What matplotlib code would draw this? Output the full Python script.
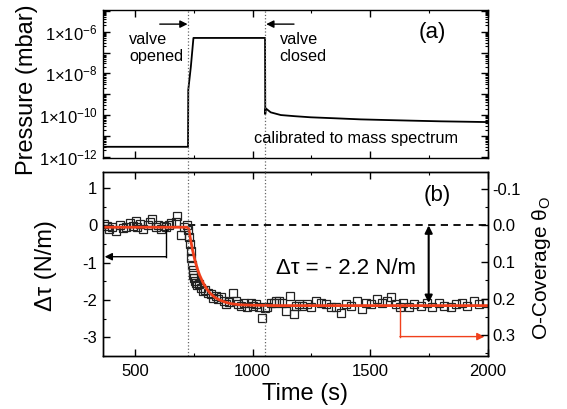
import numpy as np
import matplotlib
matplotlib.use("Agg")
import matplotlib.pyplot as plt
from matplotlib.ticker import LogLocator, FuncFormatter, MultipleLocator, NullFormatter
from matplotlib.lines import Line2D
from matplotlib.transforms import blended_transform_factory

plt.rcParams['font.family'] = ['Liberation Sans', 'DejaVu Sans']
plt.rcParams['mathtext.fontset'] = 'custom'
plt.rcParams['mathtext.rm'] = 'Liberation Sans'
plt.rcParams['mathtext.it'] = 'Liberation Sans:italic'
plt.rcParams['mathtext.default'] = 'regular'
plt.rcParams['axes.unicode_minus'] = False

# pressure trace (panel a)
t_press = [365, 726, 727, 738, 749, 1053, 1054, 1056, 1077, 1120, 1180, 1247,
           1350, 1459, 1560, 1671, 1800, 1900, 2000]
pressure = [3.0e-12, 3.0e-12, 1.6e-9, 2.1e-8, 5.0e-7, 5.0e-7, 1.1e-10, 2.1e-10,
            1.35e-10, 1.0e-10, 8.8e-11, 7.8e-11, 7.0e-11, 6.2e-11, 5.8e-11,
            5.4e-11, 5.0e-11, 4.8e-11, 4.6e-11]

# stress data (panel b)
t_stress = [370, 380, 391, 405, 420, 438, 450, 462, 480, 492, 504, 511, 522, 533,
            554, 565, 575, 589, 600, 611, 622, 632, 645, 653, 674, 681, 695, 710,
            720,
            728, 731, 734, 737, 740, 743, 746, 749, 752, 756, 760, 765, 772, 780,
            790, 800, 812, 823, 834, 844, 855, 866, 879, 886, 900, 915, 929, 940,
            950, 965, 978, 992, 1003, 1014, 1027, 1041, 1052, 1063, 1077, 1091,
            1098, 1112,
            1127, 1141, 1159, 1176, 1183, 1198, 1212, 1230, 1247, 1268, 1289, 1311,
            1332, 1353, 1374, 1396, 1417, 1445, 1466, 1480, 1505, 1530, 1551, 1570,
            1587, 1608, 1625, 1640, 1664, 1686, 1714, 1742, 1763, 1792, 1813, 1841,
            1862, 1891, 1912, 1940, 1961, 1990]
d_tau = [0.04, -0.02, -0.09, -0.05, -0.15, 0.00, -0.08, -0.05, 0.07, -0.02, 0.13,
         -0.05, 0.03, -0.09, 0.00, 0.08, 0.16, -0.05, 0.02, -0.09, -0.03, -0.05,
         0.02, 0.05, 0.09, 0.25, -0.25, -0.05, 0.02,
         -0.12, -0.30, -0.50, -0.70, -0.88, -1.05, -1.20, -1.32, -1.42, -1.50,
         -1.55, -1.60, -1.58, -1.68, -1.75, -1.72, -1.80, -1.84, -1.95, -1.89,
         -1.98, -1.93, -2.02, -2.11, -2.05, -1.80, -2.02, -2.12, -2.16, -2.08,
         -2.20, -2.07, -2.15, -2.11, -2.18, -2.47, -2.22, -2.20, -2.07, -2.07,
         -2.02, -2.02,
         -2.07, -2.29, -1.89, -2.38, -2.16, -2.10, -2.16, -2.12, -2.20, -2.02,
         -2.07, -2.11, -2.20, -2.20, -2.34, -2.11, -2.16, -2.02, -2.25, -2.07,
         -2.12, -1.98, -2.07, -2.02, -1.93, -2.11, -2.18, -2.07, -2.20, -2.11,
         -2.16, -2.07, -2.20, -2.07, -2.16, -2.20, -2.11, -2.07, -2.16, -2.02,
         -2.11, -2.07]

# fit curve
t_fit = [365, 720, 726, 730, 735, 745, 755, 765, 775, 790, 805, 820, 840, 860,
         885, 910, 950, 1000, 1100, 2000]
tau_fit = [-0.05, -0.05, -0.06, -0.12, -0.32, -0.655, -0.93, -1.15, -1.33, -1.54,
           -1.70, -1.82, -1.93, -2.00, -2.06, -2.10, -2.13, -2.14, -2.15, -2.15]

t_open, t_close = 727, 1055
red = '#f0401c'

fig = plt.figure(figsize=(5.67, 4.09), dpi=100)
ax1 = fig.add_axes([0.1817, 0.6137, 0.679, 0.3619])
ax2 = fig.add_axes([0.1817, 0.1296, 0.679, 0.4499])
ax2r = ax2.twinx()

for ax in (ax1, ax2, ax2r):
    for s in ax.spines.values():
        s.set_linewidth(1.0)

# ---- panel (a)
ax1.plot(t_press, pressure, color='k', lw=1.3)
ax1.set_yscale('log')
ax1.set_xlim(365, 2000)
ax1.set_ylim(10 ** -12.06, 10 ** -4.96)
ax1.yaxis.set_major_locator(LogLocator(base=10, numticks=30))
ax1.yaxis.set_minor_locator(LogLocator(base=10, subs=np.arange(2, 10), numticks=30))
ax1.yaxis.set_minor_formatter(NullFormatter())


def sci(v, pos):
    e = int(round(np.log10(v)))
    if e % 2:
        return ''
    return r'1$\times$10$^{%d}$' % e


ax1.yaxis.set_major_formatter(FuncFormatter(sci))
ax1.xaxis.set_major_locator(MultipleLocator(500))
ax1.xaxis.set_minor_locator(MultipleLocator(250))
ax1.tick_params(axis='x', labelbottom=False)
ax1.tick_params(which='both', direction='in', top=True, right=True, labelsize=12)
ax1.tick_params(which='major', length=5, width=1, pad=4)
ax1.tick_params(which='minor', length=2.5, width=0.8)
ax1.set_ylabel('Pressure (mbar)', fontsize=17)
ax1.yaxis.set_label_coords(-0.168, 0.46)
ax1.axvline(t_open, color='0.4', ls=':', lw=0.9)
ax1.axvline(t_close, color='0.4', ls=':', lw=0.9)

ax1.annotate('', xy=(724, 2.3e-6), xytext=(606, 2.3e-6),
             arrowprops=dict(arrowstyle='-|>', color='k', lw=1, mutation_scale=11,
                             shrinkA=0, shrinkB=0))
ax1.annotate('', xy=(1058, 2.3e-6), xytext=(1176, 2.3e-6),
             arrowprops=dict(arrowstyle='-|>', color='k', lw=1, mutation_scale=11,
                             shrinkA=0, shrinkB=0))
ax1.text(475, 1.6e-7, 'valve\nopened', fontsize=11.7, ha='left', va='center',
         linespacing=1.15)
ax1.text(1115, 1.6e-7, 'valve\nclosed', fontsize=11.7, ha='left', va='center',
         linespacing=1.15)
ax1.text(1705, 9.5e-7, '(a)', fontsize=16, ha='left', va='center')
ax1.text(1005, 7.9e-12, 'calibrated to mass spectrum', fontsize=11.7,
         ha='left', va='center')

# ---- panel (b)
ax2.axhline(0, xmin=(t_open - 365) / 1635, xmax=1, color='k', ls=(0, (4, 3)), lw=1.3)
ax2.plot(t_stress, d_tau, ls='none', marker='s', ms=5.4, mfc='none', mec='#222222',
         mew=0.9)
ax2.plot(t_fit, tau_fit, color=red, lw=2)
ax2.set_xlim(365, 2000)
ax2.set_ylim(-3.5, 1.43)
ax2.xaxis.set_major_locator(MultipleLocator(500))
ax2.xaxis.set_minor_locator(MultipleLocator(250))
ax2.yaxis.set_major_locator(MultipleLocator(1))
ax2.yaxis.set_minor_locator(MultipleLocator(0.5))
ax2.tick_params(which='both', direction='in', top=True, right=False, labelsize=12)
ax2.tick_params(which='major', length=5, width=1, pad=4)
ax2.tick_params(axis='x', which='major', pad=6)
ax2.tick_params(which='minor', length=2.5, width=0.8)
ax2.set_xlabel('Time (s)', fontsize=17)
ax2.xaxis.set_label_coords(0.525, -0.147)
ax2.set_ylabel('Δτ (N/m)', fontsize=17)
ax2.yaxis.set_label_coords(-0.119, 0.49)
ax2.axvline(t_open, color='0.4', ls=':', lw=0.9)
ax2.axvline(t_close, color='0.4', ls=':', lw=0.9)

ax2r.set_ylim(0.357, -0.146)
ax2r.yaxis.set_major_locator(MultipleLocator(0.1))
ax2r.yaxis.set_minor_locator(MultipleLocator(0.05))
ax2r.yaxis.set_major_formatter(FuncFormatter(lambda v, p: '%.1f' % v if abs(v) > 1e-9 else '0.0'))
ax2r.tick_params(which='both', direction='in', labelsize=12)
ax2r.tick_params(which='major', length=5, width=1, pad=3)
ax2r.tick_params(which='minor', length=2.5, width=0.8)
ax2r.set_ylabel(r'O-Coverage θ$_{\rm O}$', fontsize=15)
ax2r.yaxis.set_label_coords(1.108, 0.48)

# annotations
ax2.plot([632, 632], [-0.12, -0.84], color='k', lw=1)
ax2.annotate('', xy=(372, -0.84), xytext=(632, -0.84),
             arrowprops=dict(arrowstyle='-|>', color='k', lw=1, mutation_scale=11,
                             shrinkA=0, shrinkB=0))
ax2.plot([1626, 1626], [-2.16, -2.98], color=red, lw=1)
ax2.annotate('', xy=(1985, -2.98), xytext=(1626, -2.98),
             arrowprops=dict(arrowstyle='-|>', color=red, lw=1, mutation_scale=11,
                             shrinkA=0, shrinkB=0))
ax2.annotate('', xy=(1748, 0.0), xytext=(1748, -2.08),
             arrowprops=dict(arrowstyle='<|-|>', color='k', lw=1.5, mutation_scale=11,
                             shrinkA=0, shrinkB=0))
ax2.text(1098, -1.16, 'Δτ = - 2.2 N/m', fontsize=16, ha='left', va='center')
ax2.text(1727, 0.81, '(b)', fontsize=16, ha='left', va='center')

# dotted markers across the gap between the panels
tr = blended_transform_factory(ax2.transData, fig.transFigure)
for tv in (t_open, t_close):
    fig.add_artist(Line2D([tv, tv], [0.5795, 0.6137], transform=tr,
                          color='0.4', ls=':', lw=0.9))

fig.savefig('out.png', dpi=100)
